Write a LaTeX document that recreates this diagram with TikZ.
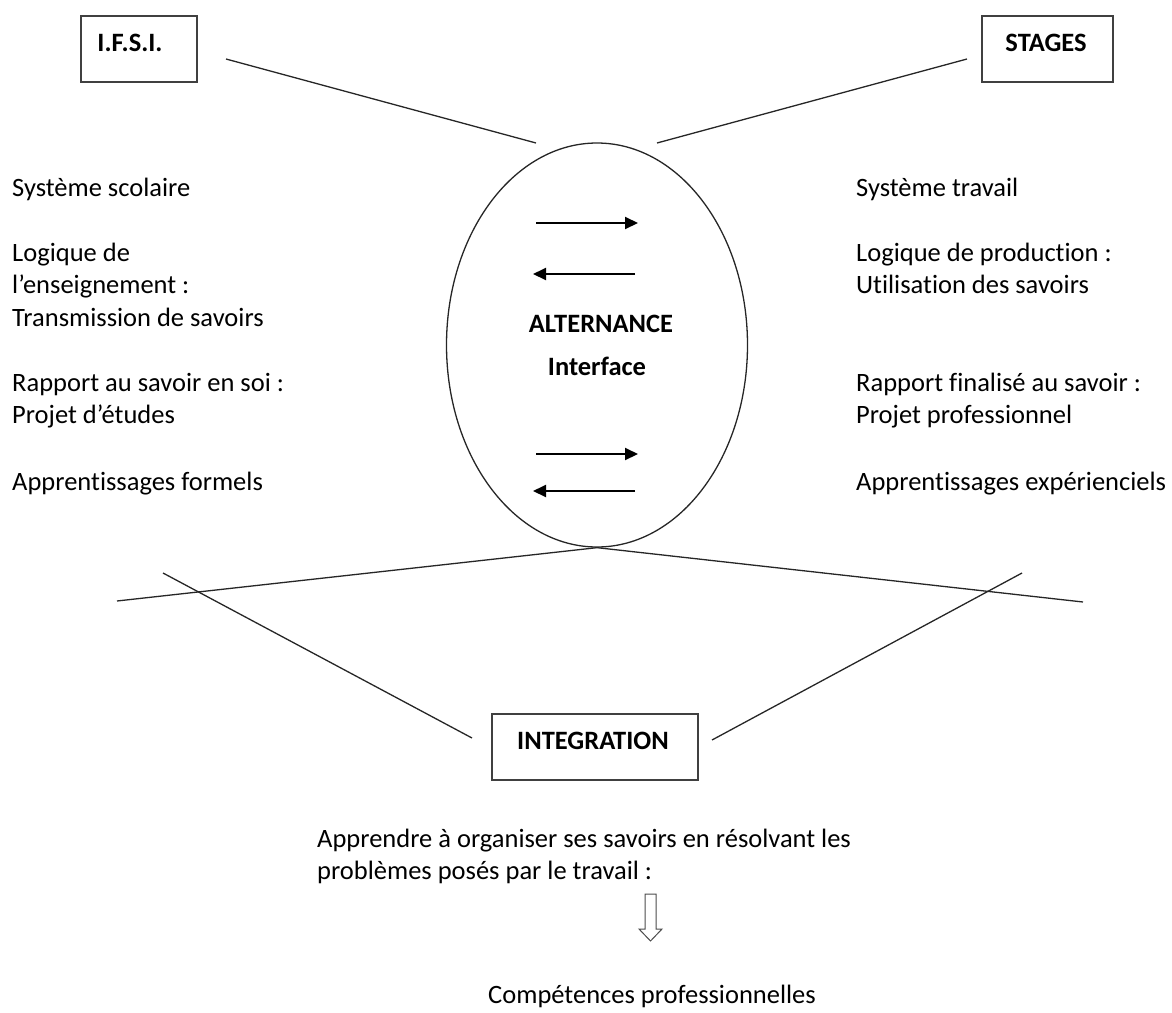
\documentclass[tikz,border=0pt]{standalone}
\usepackage{fontspec}
\setmainfont{Carlito}[Ligatures={TeX,NoCommon}]
\usetikzlibrary{arrows.meta,shapes.geometric}
\begin{document}
\begin{tikzpicture}[x=1pt,y=-1pt,
  txt/.style={anchor=base west, inner sep=0pt, font=\fontsize{26.5}{32}\selectfont},
  btxt/.style={anchor=base, inner sep=0pt, font=\fontsize{26.5}{32}\selectfont\bfseries},
  boxst/.style={draw=black!75, line width=1.5pt, rectangle, inner sep=0pt, anchor=north west},
  ln/.style={draw=black!85, line width=1.3pt},
  arr/.style={line width=2pt, -{Triangle[length=13pt,width=12pt]}}
]
\useasboundingbox (0,0) rectangle (1172,1012);

% boxes
\node[boxst, minimum width=116pt, minimum height=66pt] (ifsi) at (80,15) {};
\node[btxt] (ifsit) at (130,51) {I.F.S.I.};
\node[boxst, minimum width=131pt, minimum height=66pt] (stages) at (981,15) {};
\node[btxt] (stagest) at (1046,51) {STAGES};
\node[boxst, minimum width=206pt, minimum height=66pt] (integ) at (491,713) {};
\node[btxt] (integt) at (593,749) {INTEGRATION};

% ellipse
\node[ellipse, draw=black!85, line width=1.3pt, minimum width=301pt, minimum height=404pt, inner sep=0pt] (ell) at (597,345) {};
\node[btxt] (alt) at (601,332) {ALTERNANCE};
\node[btxt] (intf) at (597,375) {Interface};

% arrows inside ellipse
\coordinate (a1s) at (536,223); \coordinate (a1e) at (638,223);
\coordinate (a2s) at (635,274); \coordinate (a2e) at (533,274);
\coordinate (a3s) at (536,454); \coordinate (a3e) at (638,454);
\coordinate (a4s) at (635,491); \coordinate (a4e) at (533,491);
\draw[arr] (a1s) -- (a1e);
\draw[arr] (a2s) -- (a2e);
\draw[arr] (a3s) -- (a3e);
\draw[arr] (a4s) -- (a4e);

% connecting lines
\coordinate (t1a) at (226,59); \coordinate (t1b) at (536,143);
\coordinate (t2a) at (657,143); \coordinate (t2b) at (967,59);
\draw[ln] (t1a) -- (t1b);
\draw[ln] (t2a) -- (t2b);
\coordinate (bl) at (117,601); \coordinate (br) at (1083,602);
\draw[ln] (ell.south) -- (bl);
\draw[ln] (ell.south) -- (br);
\coordinate (c1a) at (163,573); \coordinate (c1b) at (472,738);
\coordinate (c2a) at (1022,573); \coordinate (c2b) at (712,740);
\draw[ln] (c1a) -- (c1b);
\draw[ln] (c2a) -- (c2b);

% left texts
\node[txt] (l1) at (12,196) {Système scolaire};
\node[txt] (l2) at (12,261) {Logique de};
\node[txt] (l3) at (12,293.5) {l’enseignement :};
\node[txt] (l4) at (12,326) {Transmission de savoirs};
\node[txt] (l5) at (12,391) {Rapport au savoir en soi :};
\node[txt] (l6) at (12,423.5) {Projet d’études};
\node[txt] (l7) at (12,490) {Apprentissages formels};

% right texts
\node[txt] (r1) at (856,196) {Système travail};
\node[txt] (r2) at (856,261) {Logique de production :};
\node[txt] (r3) at (856,293.5) {Utilisation des savoirs};
\node[txt] (r5) at (856,391) {Rapport finalisé au savoir :};
\node[txt] (r6) at (856,423.5) {Projet professionnel};
\node[txt] (r7) at (856,490) {Apprentissages expérienciels};

% bottom texts
\node[txt] (b1) at (317,847) {Apprendre à organiser ses savoirs en résolvant les};
\node[txt] (b2) at (317,879.5) {problèmes posés par le travail :};
\draw[draw=black!70, line width=1pt, fill=white] (645,894) -- (656,894) -- (656,929) -- (662,929) -- (650.5,941) -- (639,929) -- (645,929) -- cycle;
\node[btxt, font=\fontsize{26.5}{32}\selectfont] (comp) at (652,1003) {Compétences professionnelles};
\end{tikzpicture}
\end{document}
